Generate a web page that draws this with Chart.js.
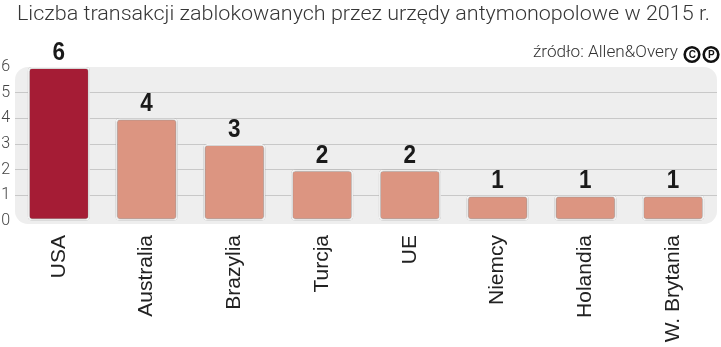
<!DOCTYPE html>
<html><head><meta charset="utf-8">
<script src="https://cdn.jsdelivr.net/npm/chart.js@4/dist/chart.umd.min.js"></script>
<style>html,body{margin:0;padding:0;background:#fff;}canvas{display:block;}</style>
</head><body>
<canvas id="c" width="721" height="347"></canvas>
<script>
const titleText = 'Liczba transakcji zablokowanych przez urzędy antymonopolowe w 2015 r.';
const sourceText = 'źródło: Allen&Overy';
const categories = ['USA','Australia','Brazylia','Turcja','UE','Niemcy','Holandia','W. Brytania'];
const values = [6,4,3,2,2,1,1,1];
const yTickValues = [0,1,2,3,4,5,6];
const highlightIndex = 0;

const bgPlugin = {
  id: 'bg',
  beforeDraw(chart) {
    const {ctx, chartArea: a} = chart;
    ctx.save();
    ctx.fillStyle = '#eeeeee';
    ctx.beginPath();
    ctx.roundRect(a.left, a.top, a.right - a.left, a.bottom + 3 - a.top, 13);
    ctx.fill();
    ctx.restore();
  }
};

const shadowPlugin = {
  id: 'shadow',
  beforeDatasetsDraw(chart) {
    chart.ctx.save();
    chart.ctx.shadowColor = 'rgba(0,0,0,0.5)';
    chart.ctx.shadowBlur = 2.5;
  },
  afterDatasetsDraw(chart) {
    chart.ctx.restore();
  }
};

const textPlugin = {
  id: 'texts',
  afterDraw(chart) {
    const ctx = chart.ctx;
    ctx.save();
    // value labels
    const meta = chart.getDatasetMeta(0);
    ctx.fillStyle = '#1a1a1a';
    ctx.font = 'bold 25px "Liberation Sans"';
    ctx.textAlign = 'center';
    ctx.textBaseline = 'alphabetic';
    meta.data.forEach((bar, i) => {
      ctx.save();
      ctx.translate(bar.x, bar.y - 7);
      ctx.scale(0.9, 1.05);
      ctx.fillText(String(values[i]), 0, 0);
      ctx.restore();
    });
    // title
    ctx.font = '300 21px Roboto';
    ctx.fillStyle = '#363636';
    ctx.textAlign = 'left';
    const tw = ctx.measureText(titleText).width;
    const sx = 693 / tw;
    ctx.save();
    ctx.translate(17, 20);
    ctx.scale(sx, 1);
    ctx.fillText(titleText, 0, 0);
    ctx.restore();
    // source
    ctx.font = '300 17px Roboto';
    ctx.fillStyle = '#333';
    const sw = ctx.measureText(sourceText).width;
    const ss = 145 / sw;
    ctx.save();
    ctx.translate(533, 57);
    ctx.scale(ss, 1);
    ctx.fillText(sourceText, 0, 0);
    ctx.restore();
    // copyright marks
    [['C', 692], ['P', 711]].forEach(([ch, cx]) => {
      ctx.beginPath();
      ctx.arc(cx, 54.5, 7.3, 0, Math.PI * 2);
      ctx.lineWidth = 2.6;
      ctx.strokeStyle = '#111';
      ctx.stroke();
      ctx.font = 'bold 10px "Liberation Sans"';
      ctx.fillStyle = '#111';
      ctx.textAlign = 'center';
      ctx.textBaseline = 'middle';
      ctx.fillText(ch, cx + 0.3, 55);
    });
    ctx.restore();
  }
};

new Chart(document.getElementById('c'), {
  type: 'bar',
  data: {
    labels: categories,
    datasets: [{
      data: values,
      backgroundColor: values.map((v, i) => i === highlightIndex ? '#a51c35' : '#dc9581'),
      borderColor: '#ffffff',
      borderWidth: 2,
      borderRadius: 4,
      borderSkipped: false,
      barPercentage: 0.707,
      categoryPercentage: 1
    }]
  },
  options: {
    responsive: false,
    devicePixelRatio: 1,
    animation: false,
    layout: { padding: { top: 67, right: 4, left: 0, bottom: 0 } },
    plugins: { legend: { display: false }, tooltip: { enabled: false }, title: { display: false } },
    scales: {
      x: {
        grid: { display: false, drawTicks: false },
        border: { display: false },
        ticks: {
          minRotation: 90, maxRotation: 90, autoSkip: false,
          padding: 14,
          color: '#222',
          font: { family: '"Liberation Sans"', size: 21 }
        },
        afterFit(scale) { scale.height = 126; }
      },
      y: {
        min: 0, max: 6,
        afterBuildTicks(scale) { scale.ticks = yTickValues.map(v => ({ value: v })); },
        grid: {
          drawTicks: false,
          color: ctx => (ctx.tick && (ctx.tick.value === 0 || ctx.tick.value === 6)) ? 'rgba(0,0,0,0)' : '#c8c8c8',
          lineWidth: 1
        },
        border: { display: false },
        ticks: {
          padding: 5,
          color: '#444',
          font: { family: 'Roboto', size: 16, weight: '300' }
        },
        afterFit(scale) { scale.width = 15; }
      }
    }
  },
  plugins: [bgPlugin, shadowPlugin, textPlugin]
});
</script>
</body></html>
